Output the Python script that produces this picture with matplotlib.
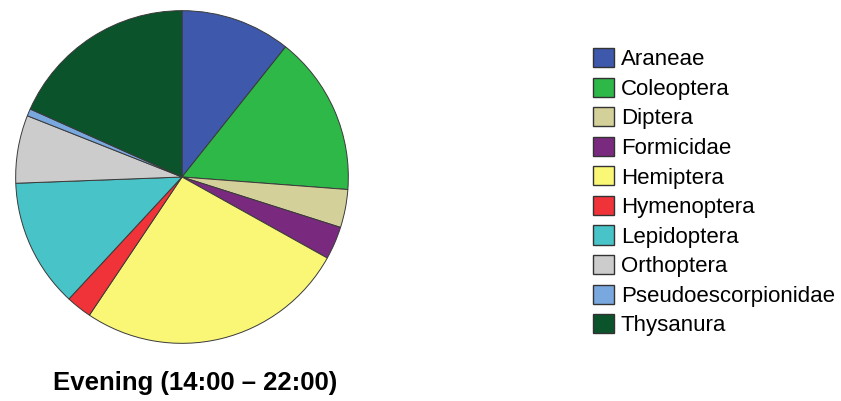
import matplotlib.pyplot as plt

plt.rcParams['font.family'] = ['Liberation Sans', 'DejaVu Sans']

# Share of individuals caught per order, evening sampling (percent)
orders = ['Araneae', 'Coleoptera', 'Diptera', 'Formicidae', 'Hemiptera',
          'Hymenoptera', 'Lepidoptera', 'Orthoptera', 'Pseudoescorpionidae',
          'Thysanura']
shares = [10.7, 15.5, 3.7, 3.2, 26.3, 2.5, 12.5, 6.6, 0.7, 18.3]
colors = ['#3E58AC', '#2EB848', '#D4D09A', '#7A2A7E', '#FBF776',
          '#EF3338', '#48C4C8', '#CCCCCC', '#79A8DE', '#0A532B']

W, H = 841, 401
fig = plt.figure(figsize=(W / 100, H / 100), dpi=100)

# pie centred at (182, 177) px, radius 168 px
cx, cy, r = 182, 177, 168
ax = fig.add_axes([(cx - r) / W, (H - cy - r) / H, 2 * r / W, 2 * r / H])
wedges, _ = ax.pie(shares, colors=colors, startangle=90, counterclock=False,
                   wedgeprops=dict(edgecolor='#3a3a3a', linewidth=0.7))
ax.set_xlim(-1.01, 1.01)
ax.set_ylim(-1.01, 1.01)
ax.set_aspect('equal')
ax.axis('off')

leg = fig.legend(wedges, orders, loc='upper left',
                 bbox_to_anchor=(582 / W, 1 - 37 / H),
                 frameon=False, fontsize=16, handlelength=0.95,
                 handleheight=0.95, handletextpad=0.3, labelspacing=0.33,
                 borderpad=0)
for p in leg.get_patches():
    p.set_edgecolor('#333333')
    p.set_linewidth(1.0)

fig.text(195 / W, 1 - 383 / H, 'Evening (14:00 \u2013 22:00)',
         ha='center', va='center', fontsize=18.5, fontweight='bold')

fig.savefig('out.png', dpi=100)
